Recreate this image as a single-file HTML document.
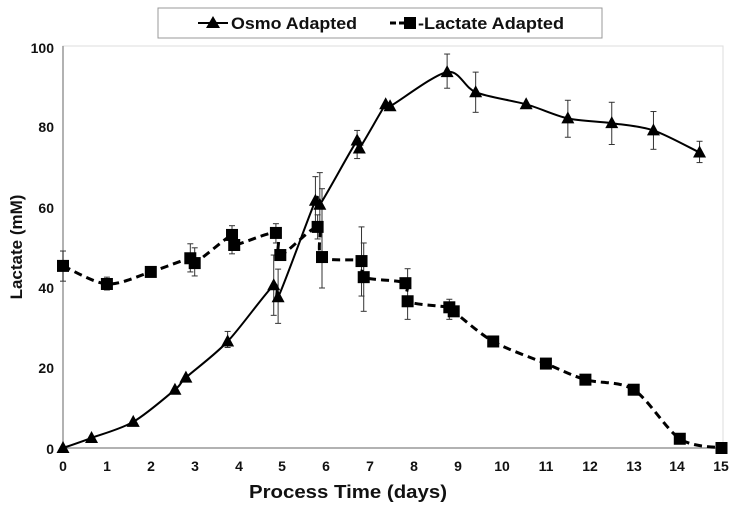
<!DOCTYPE html>
<html><head><meta charset="utf-8"><style>
html,body{margin:0;padding:0;background:#fff;}
svg{display:block;font-family:"Liberation Sans",Arial,sans-serif;font-weight:bold;}
</style></head><body>
<svg id="s" width="740" height="509" viewBox="0 0 740 509" xmlns="http://www.w3.org/2000/svg">
<rect x="158" y="8" width="444" height="30" fill="#fff" stroke="#999" stroke-width="1"/>
<line x1="198" y1="23" x2="228" y2="23" stroke="#000" stroke-width="2"/>
<polygon points="213,16 206,28 220,28" fill="#000"/>
<text x="231" y="29" font-size="17" textLength="126" lengthAdjust="spacingAndGlyphs" fill="#111">Osmo Adapted</text>
<line x1="390" y1="23" x2="404" y2="23" stroke="#000" stroke-width="3" stroke-dasharray="6,3"/>
<rect x="404" y="17" width="12" height="12" fill="#000"/>
<text x="418" y="29" font-size="17" textLength="146" lengthAdjust="spacingAndGlyphs" fill="#111">-Lactate Adapted</text>
<rect x="63" y="46" width="660" height="402" fill="none" stroke="#ddd" stroke-width="1"/>
<line x1="63" y1="46" x2="63" y2="448" stroke="#999" stroke-width="1.5"/>
<line x1="63" y1="448" x2="723" y2="448" stroke="#999" stroke-width="1.5"/>
<g font-size="14" text-anchor="end" fill="#111">
<text x="54" y="53">100</text><text x="54" y="132">80</text><text x="54" y="213">60</text><text x="54" y="293">40</text><text x="54" y="373">20</text><text x="54" y="454">0</text>
</g>
<g font-size="14" text-anchor="middle" fill="#111">
<text x="63" y="471">0</text><text x="107" y="471">1</text><text x="151" y="471">2</text><text x="195" y="471">3</text><text x="239" y="471">4</text><text x="282" y="471">5</text><text x="326" y="471">6</text><text x="370" y="471">7</text><text x="414" y="471">8</text><text x="458" y="471">9</text><text x="502" y="471">10</text><text x="546" y="471">11</text><text x="590" y="471">12</text><text x="634" y="471">13</text><text x="677" y="471">14</text><text x="721" y="471">15</text>
</g>
<text x="348" y="498" font-size="18" textLength="198" lengthAdjust="spacingAndGlyphs" text-anchor="middle" fill="#111">Process Time (days)</text>
<text transform="translate(22,247) rotate(-90)" font-size="17" text-anchor="middle" fill="#111">Lactate (mM)</text>
<g id="d"></g>
</svg>
<script>
var X=function(x){return 63+x*43.9},Y=function(y){return 448-y*4.02};
var os=[[0,0],[0.65,2.5],[1.6,6.5],[2.55,14.5],[2.8,17.5],[3.75,26.5],[4.8,40.5],[4.9,37.5],[5.75,61.5],[5.85,60.5],[6.7,76.5],[6.75,74.5],[7.35,85.5],[7.45,85],[8.75,93.5],[9.4,88.5],[10.55,85.5],[11.5,82],[12.5,80.8],[13.45,79],[14.5,73.5]];
var oe=[[3.75,29,25],[4.8,48,33],[4.9,44.5,31],[5.75,67.5,55],[5.85,68.5,55],[6.7,79,72],[8.75,98,89.5],[9.4,93.5,83.5],[11.5,86.5,77.3],[12.5,86,75.5],[13.45,83.7,74.3],[14.5,76.3,71]];
var la=[[0,45.3],[1,40.8],[2,43.8],[2.9,47.2],[3,46],[3.85,53],[3.9,50.5],[4.85,53.5],[4.95,48],[5.8,55],[5.9,47.5],[6.8,46.5],[6.85,42.5],[7.8,41],[7.85,36.5],[8.8,35],[8.9,34],[9.8,26.5],[11,21],[11.9,17],[13,14.5],[14.05,2.3],[15,0]];
var le=[[0,49,41.5],[1,42.5,39.3],[2.9,50.8,43.8],[3,49.8,42.8],[3.85,55.3,48.3],[4.85,55.8,51],[5.8,58,52],[5.9,64.5,39.8],[6.8,55,37.8],[6.85,51,34],[7.85,44.6,32],[8.8,37,32]];
var h='';
function eb(a){a.forEach(function(e){var x=X(e[0]);h+='<line x1="'+x+'" y1="'+Y(e[1])+'" x2="'+x+'" y2="'+Y(e[2])+'" stroke="#333" stroke-width="1"/><line x1="'+(x-3)+'" y1="'+Y(e[1])+'" x2="'+(x+3)+'" y2="'+Y(e[1])+'" stroke="#333"/><line x1="'+(x-3)+'" y1="'+Y(e[2])+'" x2="'+(x+3)+'" y2="'+Y(e[2])+'" stroke="#333"/>';});}
eb(oe);eb(le);
function sm(a){var p=a.map(function(q){return [X(q[0]),Y(q[1])]});var d='M'+p[0][0]+','+p[0][1];var t=0.15;
for(var i=0;i<p.length-1;i++){var p0=p[i-1]||p[i],p1=p[i],p2=p[i+1],p3=p[i+2]||p2;
d+=' C'+(p1[0]+(p2[0]-p0[0])*t).toFixed(1)+','+(p1[1]+(p2[1]-p0[1])*t).toFixed(1)+' '+(p2[0]-(p3[0]-p1[0])*t).toFixed(1)+','+(p2[1]-(p3[1]-p1[1])*t).toFixed(1)+' '+p2[0].toFixed(1)+','+p2[1].toFixed(1);}return d;}
h+='<path d="'+sm(os)+'" fill="none" stroke="#000" stroke-width="2" stroke-linejoin="round"/>';
h+='<path d="'+sm(la)+'" fill="none" stroke="#000" stroke-width="3" stroke-dasharray="8,5"/>';
os.forEach(function(p){var x=X(p[0]),y=Y(p[1]);h+='<polygon points="'+x+','+(y-7)+' '+(x-6.5)+','+(y+5)+' '+(x+6.5)+','+(y+5)+'" fill="#000"/>';});
la.forEach(function(p){var x=X(p[0]),y=Y(p[1]);h+='<rect x="'+(x-6)+'" y="'+(y-6)+'" width="12" height="12" fill="#000"/>';});
document.getElementById('d').innerHTML=h;
</script>
</body></html>
